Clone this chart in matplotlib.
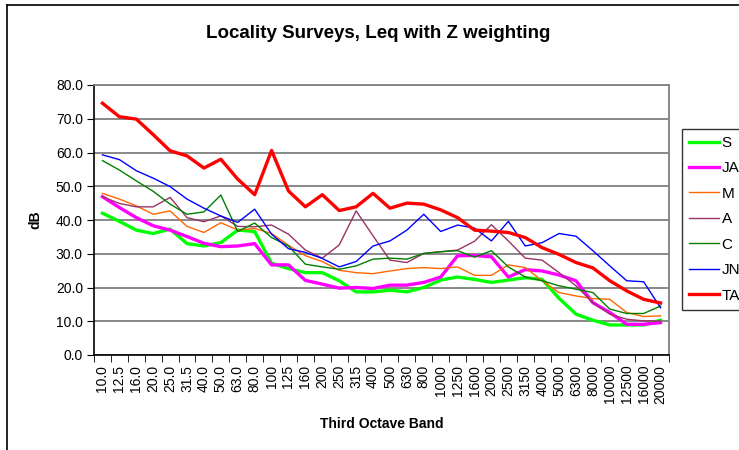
import matplotlib.pyplot as plt
from matplotlib.lines import Line2D
import numpy as np

plt.rcParams['font.family'] = ['Liberation Sans', 'DejaVu Sans']

bands = ["10.0", "12.5", "16.0", "20.0", "25.0", "31.5", "40.0", "50.0", "63.0", "80.0",
         "100", "125", "160", "200", "250", "315", "400", "500", "630", "800",
         "1000", "1250", "1600", "2000", "2500", "3150", "4000", "5000", "6300", "8000",
         "10000", "12500", "16000", "20000"]

S = [42.0, 39.6, 37.0, 36.0, 37.3, 33.0, 32.3, 33.3, 37.0, 36.6, 27.2, 25.6, 24.4, 24.4,
     22.0, 18.7, 18.7, 19.2, 18.7, 20.0, 22.2, 23.1, 22.4, 21.5, 22.2, 22.9, 22.4, 16.8,
     12.1, 10.3, 8.9, 8.9, 8.9, 10.3]
JA = [46.9, 43.7, 40.7, 38.3, 37.0, 35.1, 33.1, 32.1, 32.3, 33.0, 26.7, 26.7, 22.1, 21.0,
      19.8, 20.0, 19.7, 20.7, 20.7, 21.5, 23.1, 29.4, 29.5, 29.1, 23.1, 25.3, 24.9, 23.7,
      22.0, 15.5, 12.6, 9.1, 9.1, 9.6]
M = [47.9, 46.2, 44.2, 41.7, 42.7, 38.1, 36.3, 39.2, 37.0, 37.5, 36.0, 32.5, 29.4, 27.7,
     25.1, 24.4, 24.1, 24.9, 25.6, 25.9, 25.6, 26.1, 23.6, 23.6, 26.7, 25.9, 22.0, 18.5,
     17.5, 16.7, 16.5, 12.6, 11.4, 11.6]
A = [46.9, 44.9, 43.9, 43.9, 46.7, 40.7, 39.5, 41.2, 38.1, 38.0, 38.5, 35.8, 31.1, 28.7,
     32.6, 42.7, 35.3, 28.1, 27.4, 30.1, 30.6, 31.1, 33.7, 38.6, 33.8, 28.7, 28.1, 24.4,
     20.5, 15.5, 12.1, 10.6, 10.1, 10.1]
C = [57.6, 54.8, 51.6, 48.5, 44.7, 41.7, 42.4, 47.4, 36.6, 39.1, 34.8, 32.3, 26.9, 26.1,
     25.4, 26.4, 28.4, 28.7, 28.4, 30.1, 30.6, 30.9, 29.0, 30.9, 26.1, 23.1, 22.0, 20.5,
     19.5, 18.5, 13.6, 12.3, 12.3, 14.5]
JN = [59.3, 57.9, 54.6, 52.4, 49.9, 46.2, 43.5, 41.2, 39.3, 43.2, 35.8, 31.5, 30.4, 28.6,
      26.1, 27.7, 32.3, 33.8, 37.0, 41.7, 36.6, 38.5, 37.6, 33.8, 39.6, 32.3, 33.3, 36.0,
      35.2, 30.9, 26.4, 22.0, 21.7, 14.0]
TA = [74.6, 70.6, 69.9, 65.3, 60.5, 59.0, 55.4, 58.0, 52.1, 47.5, 60.6, 48.6, 43.9, 47.5,
      42.8, 43.9, 47.9, 43.5, 45.0, 44.7, 43.0, 40.7, 37.0, 36.7, 36.3, 34.8, 31.8, 29.8,
      27.4, 25.8, 22.0, 19.0, 16.5, 15.4]

names = ["S", "JA", "M", "A", "C", "JN", "TA"]
colors = ["#00ff00", "#ff00ff", "#ff6600", "#993366", "#008000", "#0000ff", "#ff0000"]
widths = [2.4, 2.4, 1.0, 1.0, 1.0, 1.0, 2.4]

W, H = 739, 450
fig = plt.figure(figsize=(W / 100, H / 100), dpi=100)
ax = fig.add_axes([94 / W, 1 - 355 / H, 575 / W, 270 / H])

x = np.arange(len(bands))
for data, name, col, lw in zip([S, JA, M, A, C, JN, TA], names, colors, widths):
    ax.plot(x, data, color=col, lw=lw, label=name, zorder=3)

ax.set_xlim(-0.5, len(bands) - 0.5)
ax.set_ylim(0, 80)
ax.set_yticks(np.arange(0, 81, 10))
ax.set_yticklabels(["%.1f" % v for v in np.arange(0, 81, 10)], fontsize=10)
ax.set_xticks(x)
ax.set_xticklabels(bands, rotation=90, fontsize=10)
ax.set_xticks(np.arange(-0.5, len(bands), 1), minor=True)
ax.tick_params(axis='x', which='major', length=0, pad=7)
ax.tick_params(axis='x', which='minor', length=5, direction='out', color='black')
ax.tick_params(axis='y', length=5, direction='out', color='black', pad=3)

ax.yaxis.grid(True, color='#808080', lw=1.3)
ax.set_axisbelow(True)
ax.spines['top'].set_color('#808080')
ax.spines['right'].set_color('#808080')
ax.spines['top'].set_linewidth(1.3)
ax.spines['right'].set_linewidth(1.3)
ax.spines['left'].set_linewidth(1.2)
ax.spines['bottom'].set_linewidth(1.2)

ax.set_ylabel("dB", fontsize=10, fontweight='bold', labelpad=10)
ax.set_xlabel("Third Octave Band", fontsize=10, fontweight='bold', labelpad=10)
fig.text(378 / W, 1 - 33 / H, "Locality Surveys, Leq with Z weighting",
         fontsize=13.5, fontweight='bold', ha='center', va='center')

# chart frame, cut off on the right and bottom
fig.add_artist(Line2D([7 / W, 1], [1 - 5 / H, 1 - 5 / H], color='black', lw=1.2,
                      transform=fig.transFigure))
fig.add_artist(Line2D([7 / W, 7 / W], [0, 1 - 5 / H], color='black', lw=1.2,
                      transform=fig.transFigure))

leg = fig.legend(loc='upper left', bbox_to_anchor=(682 / W, 1 - 129 / H),
                 fontsize=11, frameon=True, fancybox=False, borderaxespad=0,
                 handlelength=2.0, handletextpad=0.15, labelspacing=0.75,
                 borderpad=0.45)
leg.get_frame().set_edgecolor('black')
leg.get_frame().set_linewidth(1.0)

fig.savefig("out.png", dpi=100)
